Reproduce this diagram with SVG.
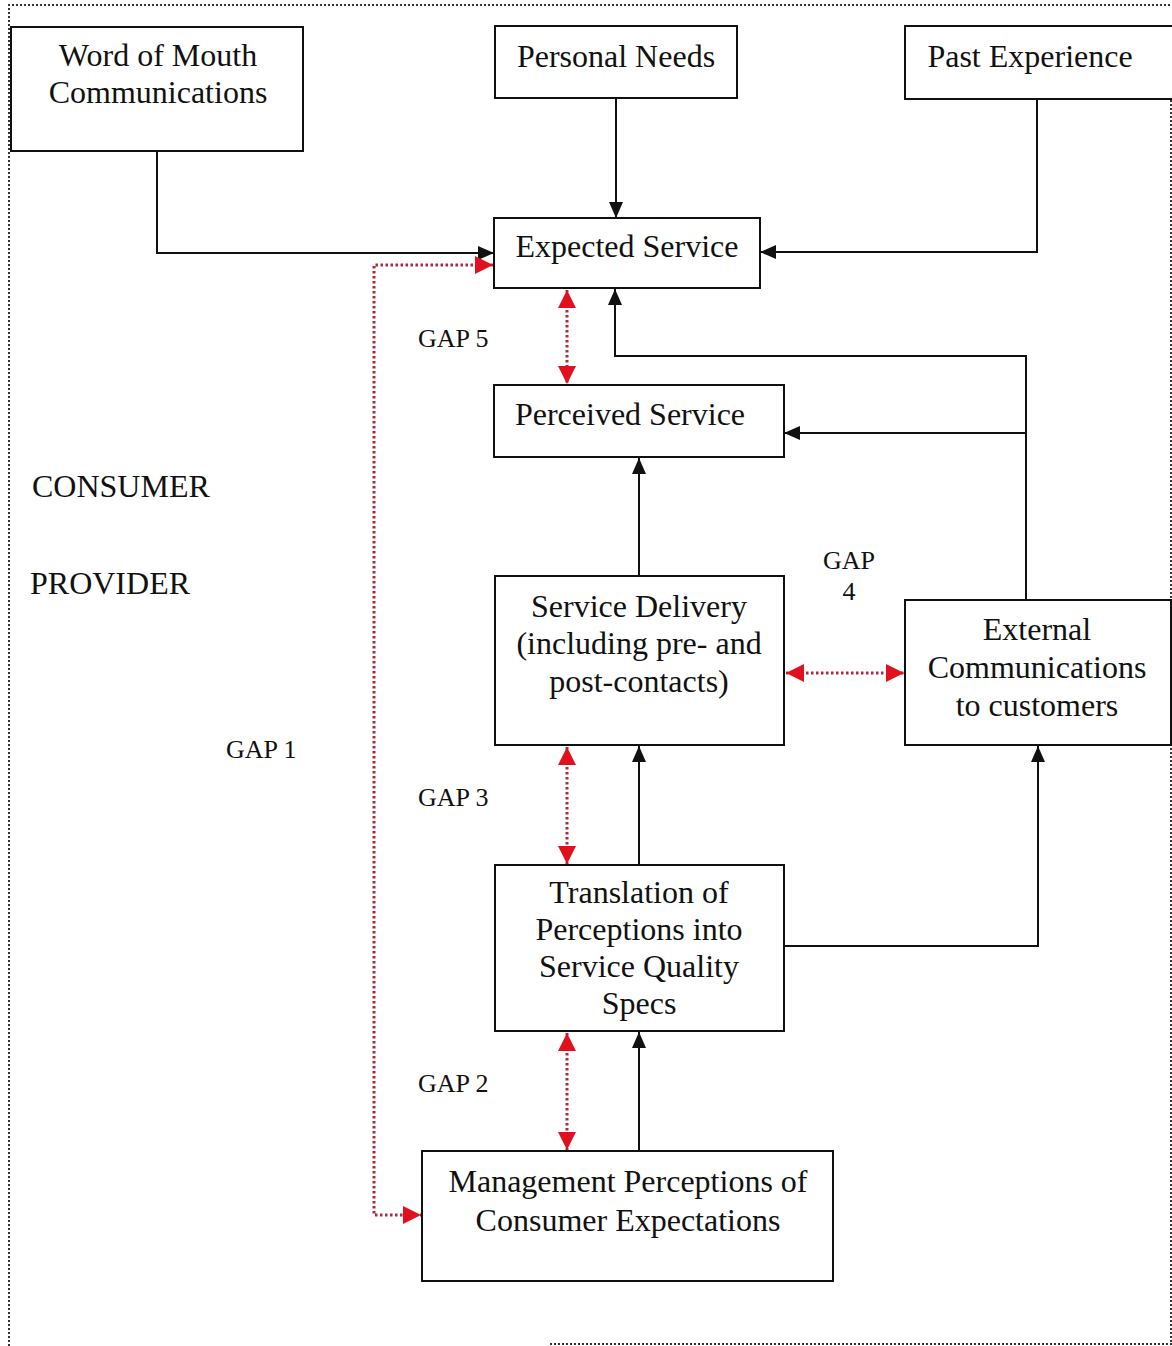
<svg xmlns="http://www.w3.org/2000/svg" width="1172" height="1346" viewBox="0 0 1172 1346">
<defs>
<style>
.box{fill:#fff;stroke:#111;stroke-width:2}
.t{font-family:"Liberation Serif","Times New Roman",serif;font-size:32px;fill:#111;text-anchor:middle}
.lbl{font-family:"Liberation Serif","Times New Roman",serif;font-size:32px;fill:#111}
.gap{font-family:"Liberation Serif","Times New Roman",serif;font-size:26px;fill:#111}
.conn{fill:none;stroke:#111;stroke-width:2}
.gapline{fill:none;stroke:#b02a3c;stroke-width:3;stroke-dasharray:2.5 2.5}
.border{fill:none;stroke:#333;stroke-width:2;stroke-dasharray:2 2}
</style>
<marker id="ab" viewBox="0 0 16 14" refX="16" refY="7" markerWidth="16" markerHeight="14" markerUnits="userSpaceOnUse" orient="auto-start-reverse"><path d="M0,0 L16,7 L0,14 z" fill="#111"/></marker>
<marker id="ar" viewBox="0 0 10 10" refX="10" refY="5" markerWidth="6" markerHeight="6" markerUnits="strokeWidth" orient="auto-start-reverse"><path d="M0,0 L10,5 L0,10 z" fill="#e0101c"/></marker>
</defs>
<rect width="1172" height="1346" fill="#fff"/>
<g id="border">
<path class="border" d="M9,1346 V5 H1172"/>
<path class="border" d="M1171,100 V1344"/>
<path class="border" d="M550,1344 H1172"/>
</g>
<g id="connectors">
<path class="conn" d="M157,151 V253 H494" marker-end="url(#ab)"/>
<path class="conn" d="M616,98 V218" marker-end="url(#ab)"/>
<path class="conn" d="M1037,99 V252 H760" marker-end="url(#ab)"/>
<path class="conn" d="M1026,600 V356 H615 V289" marker-end="url(#ab)"/>
<path class="conn" d="M1026,433 H784" marker-end="url(#ab)"/>
<path class="conn" d="M639,576 V458" marker-end="url(#ab)"/>
<path class="conn" d="M639,865 V746" marker-end="url(#ab)"/>
<path class="conn" d="M784,946 H1038 V746" marker-end="url(#ab)"/>
<path class="conn" d="M639,1151 V1032" marker-end="url(#ab)"/>
<path class="gapline" d="M567,290 V384" marker-start="url(#ar)" marker-end="url(#ar)"/>
<path class="gapline" d="M786,673 H904" marker-start="url(#ar)" marker-end="url(#ar)"/>
<path class="gapline" d="M567,747 V864" marker-start="url(#ar)" marker-end="url(#ar)"/>
<path class="gapline" d="M567,1033 V1150" marker-start="url(#ar)" marker-end="url(#ar)"/>
<path class="gapline" d="M493,265 H374 V1215 H421" marker-start="url(#ar)" marker-end="url(#ar)"/>
</g>
<g id="word-of-mouth"><rect class="box" x="11" y="27" width="292" height="124"/><text class="t" x="158" y="66">Word of Mouth</text><text class="t" x="158" y="103">Communications</text></g>
<g id="personal-needs"><rect class="box" x="495" y="26" width="242" height="72"/><text class="t" x="616" y="67">Personal Needs</text></g>
<g id="past-experience"><rect class="box" x="905" y="26" width="270" height="73"/><text class="t" x="1030" y="67">Past Experience</text></g>
<g id="expected-service"><rect class="box" x="494" y="218" width="266" height="70"/><text class="t" x="627" y="257">Expected Service</text></g>
<g id="perceived-service"><rect class="box" x="494" y="385" width="290" height="72"/><text class="t" x="630" y="425">Perceived Service</text></g>
<g id="service-delivery"><rect class="box" x="495" y="576" width="289" height="169"/><text class="t" x="639" y="617">Service Delivery</text><text class="t" x="639" y="654">(including pre- and</text><text class="t" x="639" y="692">post-contacts)</text></g>
<g id="external-communications"><rect class="box" x="905" y="600" width="266" height="145"/><text class="t" x="1037" y="640">External</text><text class="t" x="1037" y="678">Communications</text><text class="t" x="1037" y="716">to customers</text></g>
<g id="translation"><rect class="box" x="495" y="865" width="289" height="166"/><text class="t" x="639" y="903">Translation of</text><text class="t" x="639" y="940">Perceptions into</text><text class="t" x="639" y="977">Service Quality</text><text class="t" x="639" y="1014">Specs</text></g>
<g id="management-perceptions"><rect class="box" x="422" y="1151" width="411" height="130"/><text class="t" x="628" y="1192">Management Perceptions of</text><text class="t" x="628" y="1231">Consumer Expectations</text></g>
<g id="labels">
<text class="lbl" x="32" y="497">CONSUMER</text>
<text class="lbl" x="30" y="594">PROVIDER</text>
<text class="gap" x="226" y="758">GAP 1</text>
<text class="gap" x="418" y="347">GAP 5</text>
<text class="gap" x="418" y="806">GAP 3</text>
<text class="gap" x="418" y="1092">GAP 2</text>
<text class="gap" x="849" y="569" text-anchor="middle">GAP</text>
<text class="gap" x="849" y="600" text-anchor="middle">4</text>
</g>
</svg>
